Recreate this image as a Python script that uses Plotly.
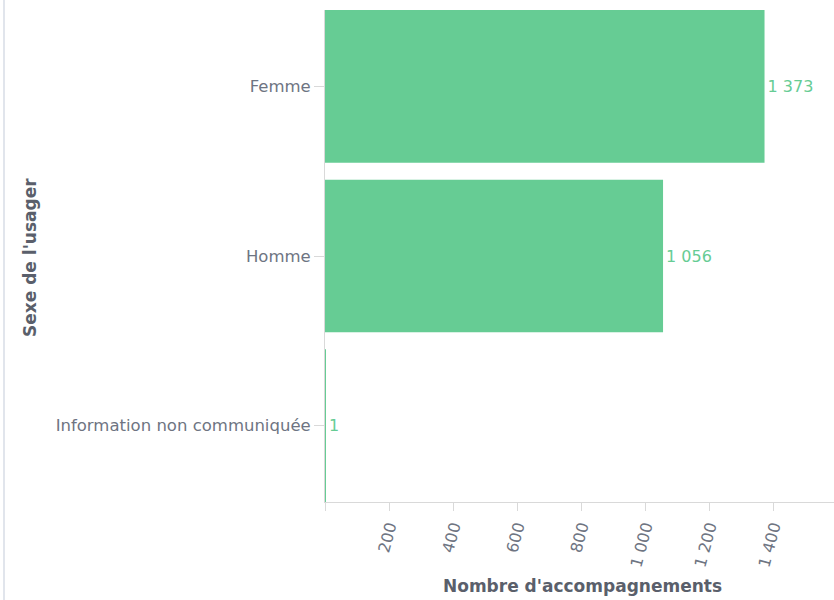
import plotly.graph_objects as go

categories = ["Femme", "Homme", "Information non communiquée"]
values = [1373, 1056, 1]
tick_values = [0, 200, 400, 600, 800, 1000, 1200, 1400]
tick_labels = ["", "200", "400", "600", "800", "1 000", "1 200", "1 400"]

bar_color = "#66CC94"
axis_color = "#D9D9D9"
text_color = "#6E7482"
title_color = "#5A5F6B"
FONT = "DejaVu Sans"

L, R, T, B = 325, 0, 10, 98
W, H = 834, 600
pw, ph = W - L - R, H - T - B

fig = go.Figure(go.Bar(
    x=values, y=categories, orientation="h",
    marker=dict(color=bar_color, line=dict(width=0)),
    text=[f"{v:,}".replace(",", " ") for v in values],
    textposition="outside",
    textfont=dict(color=bar_color, size=16, family=FONT),
    cliponaxis=False,
    width=0.9,
))

fig.update_layout(
    width=W, height=H,
    margin=dict(l=L, r=R, t=T, b=B),
    plot_bgcolor="white", paper_bgcolor="white",
    separators=", ",
    font=dict(family=FONT, color=text_color, size=16),
    showlegend=False,
    bargap=0.1,
)

fig.update_xaxes(
    range=[0, 1590],
    tickvals=tick_values, ticktext=tick_labels,
    tickangle=-75,
    ticks="outside", ticklen=8, tickcolor=axis_color,
    showline=True, linecolor=axis_color, linewidth=1,
    showgrid=False, zeroline=False, automargin=False,
    tickfont=dict(size=16, color=text_color, family=FONT),
)

fig.update_yaxes(
    categoryorder="array", categoryarray=categories,
    autorange=False, range=[2.45, -0.45],
    ticks="outside", ticklen=10, tickcolor=axis_color,
    showline=True, linecolor=axis_color, linewidth=1,
    showgrid=False, zeroline=False, automargin=False,
    tickfont=dict(size=16.5, color=text_color, family=FONT),
)

fig.add_annotation(
    text="<b>Sexe de l'usager</b>", xref="paper", yref="paper",
    x=(30 - L) / pw, y=(H - B - 258) / ph, textangle=-90,
    showarrow=False, xanchor="center", yanchor="middle",
    font=dict(size=17, color=title_color, family=FONT),
)
fig.add_annotation(
    text="<b>Nombre d'accompagnements</b>", xref="paper", yref="paper",
    x=(582 - L) / pw, y=(H - B - 586) / ph,
    showarrow=False, xanchor="center", yanchor="middle",
    font=dict(size=17, color=title_color, family=FONT),
)

fig.add_shape(type="line", xref="paper", yref="paper",
              x0=(4 - L) / pw, x1=(4 - L) / pw, y0=-B / ph, y1=1 + T / ph,
              line=dict(color="#E1E5EC", width=2))

fig.write_html("out.html", config={"displayModeBar": False},
               post_script="document.body.style.margin='0';")
